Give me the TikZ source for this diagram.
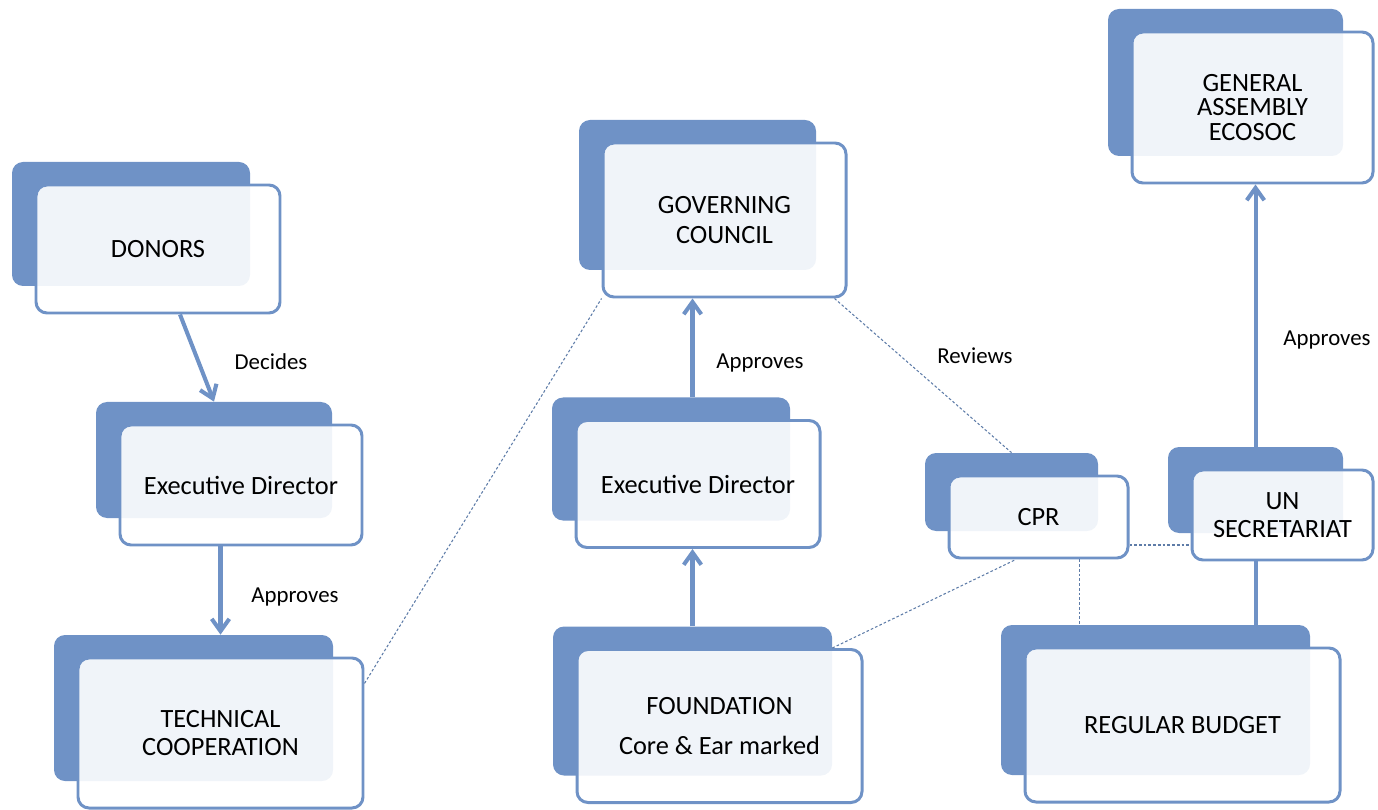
\documentclass[tikz,border=0pt]{standalone}
\usepackage{fontspec}
\setmainfont{Carlito}
\usepackage{tikz}
\usetikzlibrary{calc}
\usetikzlibrary{arrows.meta}
\definecolor{boxblue}{RGB}{111,146,198}
\tikzset{
panel/.style={
  draw=boxblue,
  line width=1.7pt,
  rounded corners=0.22cm,
  fill=white, fill opacity=0.9, text opacity=1,
  align=center,
  font=\fontsize{15}{16}\selectfont
},
backpanel/.style={fill=boxblue,rounded corners=0.22cm,inner sep=0pt},
flow/.style={draw=boxblue,line width=2.3pt,-{Straight Barb[length=7pt,width=10pt]}},
link/.style={draw=boxblue!85!black,line width=0.6pt,dash pattern=on 1.5pt off 1.2pt},
lbl/.style={font=\fontsize{13}{15}\selectfont},
}
% back plate + front box, name at centre (px), width, height, text
\newcommand{\stackbox}[5]{%
  \node[backpanel,minimum width={(#3-6)*0.02cm},minimum height={(#4-4)*0.02cm}]
    (#1b) at ($(#2)+(-27,-25)$) {};
  \node[panel,minimum width={#3*0.02cm},minimum height={#4*0.02cm}]
    (#1) at (#2) {#5};
}
\begin{document}
\begin{tikzpicture}[x=0.02cm,y=-0.02cm]
\useasboundingbox (0,0) rectangle (1378,810);
% the boxes
\stackbox{donors}{158,249}{244}{128}{DONORS}
\stackbox{edone}{241,485}{242}{120}{Executive Director}
\stackbox{tech}{220.5,733}{285}{150}{TECHNICAL\\COOPERATION}
\stackbox{gov}{724.5,220}{243}{154}{GOVERNING\\[1pt]COUNCIL}
\stackbox{edtwo}{698,484}{244}{127}{Executive Director}
\stackbox{found}{719.5,726}{285}{153}{FOUNDATION\\[7pt]Core \& Ear marked}
\stackbox{cpr}{1038.5,517}{179}{82}{CPR}
\stackbox{unsec}{1282.5,515}{181}{90}{UN\\SECRETARIAT}
\stackbox{ga}{1252.5,107.5}{241}{151}{GENERAL\\[-2pt]ASSEMBLY\\[-2pt]ECOSOC}
\stackbox{rb}{1182.5,725}{315}{154}{REGULAR BUDGET}
% the arrows
\draw[flow] ([xshift=0.44cm]donors.south) -- (edoneb.north);
\draw[flow] (edone.south -| tech.north) -- (techb.north -| tech.north);
\draw[flow] (foundb.north) -- (edtwo.south -| foundb.north);
\draw[flow] (edtwob.north -| foundb.north) -- (gov.south -| foundb.north);
\draw[flow] (unsecb.north) -- (ga.south -| unsecb.north);
\draw[flow,-] (unsec.south -| unsecb.south) -- (rbb.north -| unsecb.south);
% the dashed links
\draw[link] (tech.19) -- (gov.south west);
\draw[link] ([xshift=-0.26cm]gov.south east) -- (cprb.north);
\draw[link] (found.north -| foundb.east) -- (cpr.242);
\draw[link] ([yshift=-0.56cm]cpr.east) -- ([yshift=-0.56cm]cpr.east -| unsec.west);
\draw[link] ([xshift=0.82cm]cpr.south) -- ([xshift=0.82cm]cpr.south |- rbb.north);
% the labels
\node[lbl] (decides) at (271,362) {Decides};
\node[lbl] (apprleft) at (295,597) {Approves};
\node[lbl] (apprmid) at (760,363) {Approves};
\node[lbl] (reviews) at (975,356) {Reviews};
\node[lbl] (apprright) at (1327,340) {Approves};
\end{tikzpicture}
\end{document}
